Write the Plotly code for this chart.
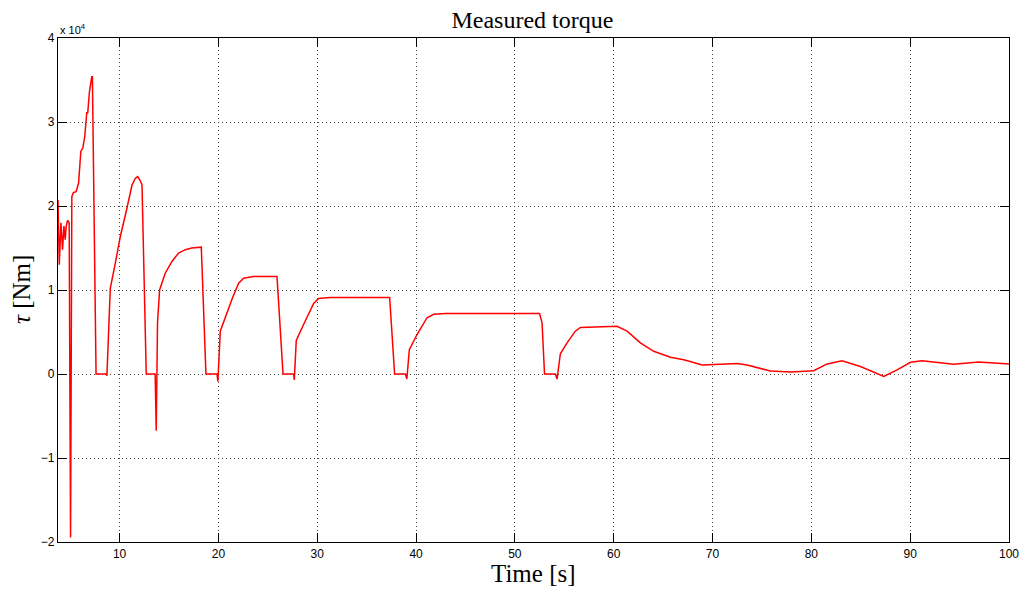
import plotly.graph_objects as go

# Time [s]
time_s = [3.77, 3.9, 4.07, 4.23, 4.37, 4.5, 4.6, 4.75, 4.9, 5.04, 5.17, 5.33, 5.6, 5.85,
          6.08, 6.28, 6.48, 6.68, 6.78, 6.95, 7.19, 7.25, 7.62, 8.62, 8.72, 8.89, 9.06,
          9.57, 10.08, 10.68, 11.26, 11.6, 11.83, 12.1, 12.27, 12.7, 13.6, 13.71, 13.84,
          14.05, 14.62, 15.3, 15.97, 16.65, 17.3, 18.27, 18.74, 19.86, 19.95, 20.19, 20.87,
          21.47, 22.05, 22.55, 23.56, 25.93, 26.54, 27.61, 27.68, 27.88, 28.62, 29.64,
          30.14, 31.33, 37.33, 37.83, 38.92, 39.07, 39.32, 40.1, 41.11, 41.78, 43.0, 52.5,
          52.75, 53.0, 54.1, 54.27, 54.6, 55.28, 56.12, 56.63, 60.34, 61.36, 62.7, 64.05,
          65.75, 67.1, 68.95, 70.47, 72.5, 73.5, 75.86, 77.88, 80.24, 81.6, 83.1, 84.97,
          87.33, 88.68, 90.03, 91.2, 92.73, 94.4, 96.94, 100.0]

# Torque in units of 1e4 Nm
torque_e4 = [2.07, 1.30, 1.80, 1.48, 1.76, 1.60, 1.76, 1.83, 1.80, -1.945, 2.11, 2.16, 2.17,
             2.27, 2.65, 2.69, 2.83, 3.11, 3.11, 3.36, 3.54, 3.54, 0.0, 0.0, -0.02, 0.57,
             1.02, 1.32, 1.64, 1.94, 2.25, 2.33, 2.35, 2.30, 2.25, 0.0, 0.0, -0.675, 0.61,
             1.0, 1.2, 1.34, 1.44, 1.48, 1.50, 1.51, 0.0, 0.0, -0.09, 0.51, 0.73,
             0.92, 1.08, 1.14, 1.16, 1.16, 0.0, 0.0, -0.07, 0.40, 0.59, 0.84,
             0.90, 0.91, 0.91, 0.0, 0.0, -0.06, 0.29, 0.47, 0.67, 0.71, 0.72, 0.72,
             0.61, 0.0, 0.0, -0.06, 0.24, 0.37, 0.51, 0.555, 0.567, 0.51, 0.37, 0.27,
             0.20, 0.17, 0.107, 0.115, 0.126, 0.107, 0.035, 0.024, 0.04, 0.12, 0.158, 0.09,
             -0.028, 0.05, 0.14, 0.158, 0.14, 0.115, 0.142, 0.119]

x_ticks = [10, 20, 30, 40, 50, 60, 70, 80, 90, 100]
y_ticks = [-2, -1, 0, 1, 2, 3, 4]
y_tick_text = ["\u22122", "\u22121", "0", "1", "2", "3", "4"]

SERIF = "Liberation Serif, DejaVu Serif, serif"
SANS = "Liberation Sans, Arial, sans-serif"

fig = go.Figure()
fig.add_trace(go.Scatter(x=time_s, y=torque_e4, mode="lines",
                         line=dict(color="#ff0000", width=1.5),
                         showlegend=False))

axis_common = dict(
    showline=True, linecolor="black", linewidth=1.2, mirror="allticks",
    ticks="inside", ticklen=9, tickwidth=1, tickcolor="black",
    showgrid=True, gridcolor="#444444", griddash="1px,3px", gridwidth=1,
    zeroline=False, automargin=False,
    tickfont=dict(family=SANS, size=12, color="black"),
)

fig.update_layout(
    width=1020, height=589,
    paper_bgcolor="white", plot_bgcolor="white",
    margin=dict(l=58, r=11, t=38, b=47),
    title=dict(text="Measured torque", x=0.522, xanchor="center", y=0.967, yanchor="middle",
               font=dict(family=SERIF, size=24, color="black")),
    xaxis=dict(range=[3.77, 100], tickvals=x_ticks, **axis_common),
    yaxis=dict(range=[-2, 4], tickvals=y_ticks, ticktext=y_tick_text, **axis_common),
    annotations=[
        dict(text="x 10<sup>4</sup>", xref="paper", yref="paper", x=0.0, y=1.0,
             xanchor="left", yanchor="bottom", showarrow=False, yshift=0,
             font=dict(family=SANS, size=11, color="black")),
        dict(text="Time [s]", xref="paper", yref="paper", x=0.5, y=0.0,
             xanchor="center", yanchor="middle", showarrow=False, yshift=-31,
             font=dict(family=SERIF, size=25, color="black")),
        dict(text="<i>\u03c4</i> [Nm]", xref="paper", yref="paper", x=0.0, y=0.5,
             xanchor="center", yanchor="middle", showarrow=False, xshift=-37,
             textangle=-90, font=dict(family=SERIF, size=25, color="black")),
    ],
)

fig.write_html("out.html", config={"displayModeBar": False},
               post_script="document.body.style.margin='0';")
